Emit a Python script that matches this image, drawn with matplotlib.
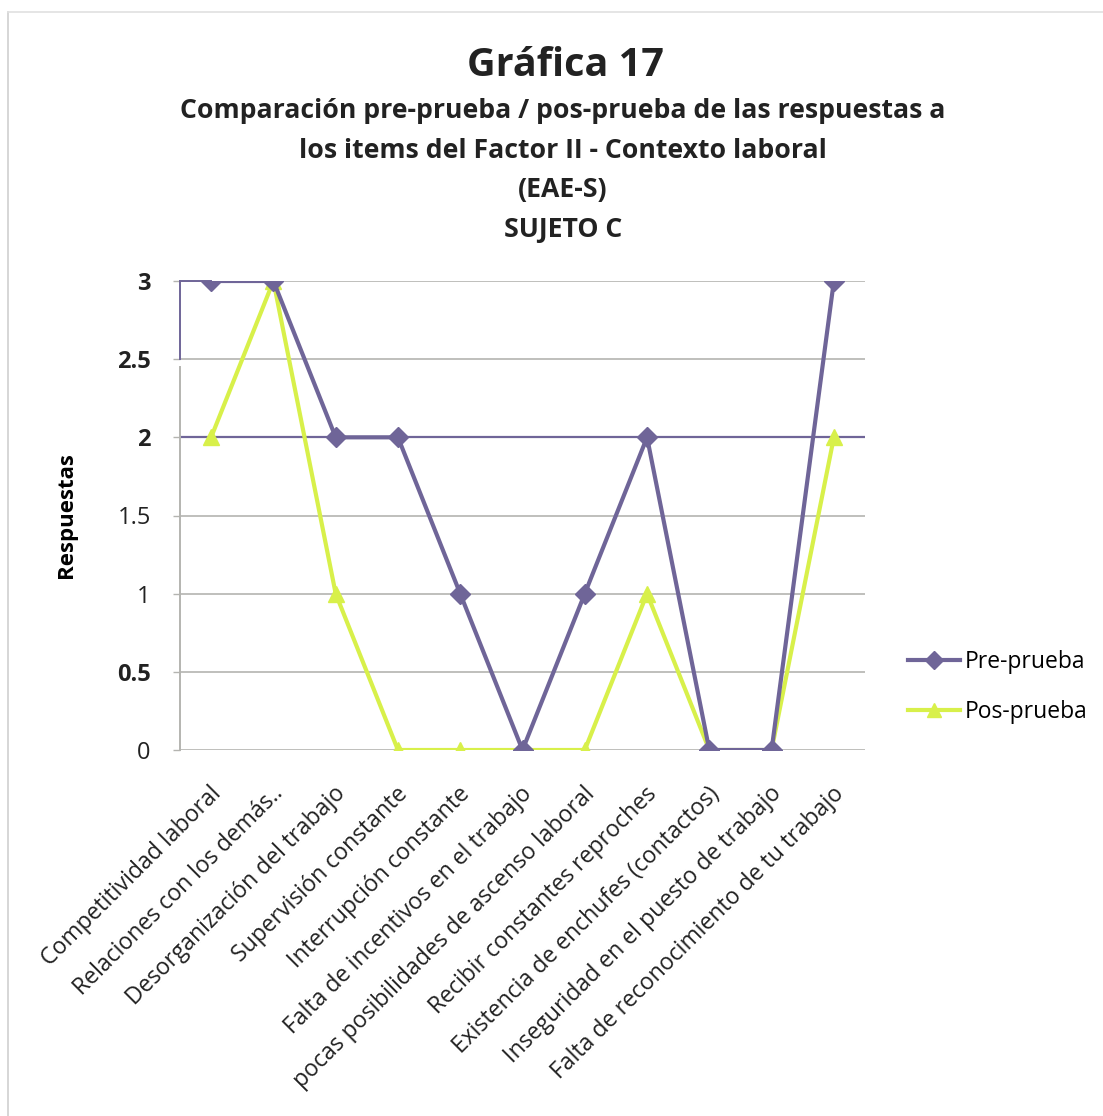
import matplotlib
matplotlib.use("Agg")
import matplotlib.pyplot as plt
import matplotlib.transforms as mtransforms
from matplotlib.lines import Line2D

# Items of Factor II and the answers before/after the intervention
items = [
    "Competitividad laboral",
    "Relaciones con los demás..",
    "Desorganización del trabajo",
    "Supervisión constante",
    "Interrupción constante",
    "Falta de incentivos en el trabajo",
    "pocas posibilidades de ascenso laboral",
    "Recibir constantes reproches",
    "Existencia de enchufes (contactos)",
    "Inseguridad en el puesto de trabajo",
    "Falta de reconocimiento de tu trabajo",
]
pre_prueba = [3, 3, 2, 2, 1, 0, 1, 2, 0, 0, 3]
pos_prueba = [2, 3, 1, 0, 0, 0, 0, 1, 0, 0, 2]
y_ticks = [0, 0.5, 1, 1.5, 2, 2.5, 3]
y_tick_labels = ["0", "0.5", "1", "1.5", "2", "2.5", "3"]
bold_ticks = {"0.5", "2", "2.5", "3"}

FONT = ["Open Sans", "DejaVu Sans"]
plt.rcParams["font.family"] = FONT

PURPLE = "#6f6598"
YELLOW = "#d8f04a"
GRID = "#b4b4b0"

W, H = 1103, 1116
fig = plt.figure(figsize=(W / 100, H / 100), dpi=100)
fig.patch.set_facecolor("white")

ax = fig.add_axes([180 / W, 1 - 750 / H, 685 / W, 469 / H])
ax.set_xlim(-0.5, len(items) - 0.5)
ax.set_ylim(0, 3)

# horizontal gridlines
for v in y_ticks:
    col = PURPLE if v == 2 else GRID
    lw = 1.6 if v == 2 else 1.2
    ax.axhline(v, color=col, lw=lw, zorder=1)

x = list(range(len(items)))
ax.plot(x, pre_prueba, color=PURPLE, lw=3, marker="D", ms=10,
        markeredgecolor=PURPLE, zorder=3, label="Pre-prueba")
ax.plot(x, pos_prueba, color=YELLOW, lw=3, marker="^", ms=11,
        markeredgecolor=YELLOW, zorder=2, label="Pos-prueba")

for s in ["top", "right", "bottom", "left"]:
    ax.spines[s].set_visible(False)
# value axis line: purple upper part, grey below
ax.plot([-0.5, -0.5], [2.5, 3], color=PURPLE, lw=1.4, clip_on=False, zorder=4)
ax.plot([-0.5, -0.5], [0, 2.45], color=GRID, lw=1.4, clip_on=False, zorder=4)
ax.plot([-0.5, 0], [3, 3], color=PURPLE, lw=1.4, clip_on=False, zorder=2)

ax.set_yticks(y_ticks)
ax.set_yticklabels(y_tick_labels)
ax.tick_params(axis="y", length=5, width=1, color=GRID, pad=16, labelsize=17)
for lab in ax.get_yticklabels():
    lab.set_fontweight("bold" if lab.get_text() in bold_ticks else "normal")
    lab.set_color("#222222")

ax.set_xticks(x)
ax.set_xticklabels(items, rotation=45, ha="right", va="top",
                   rotation_mode="anchor", fontsize=16.6, color="#222222")
ax.tick_params(axis="x", length=0, pad=23)
shift = mtransforms.ScaledTranslation(-2 / 100, 0, fig.dpi_scale_trans)
for lab in ax.get_xticklabels():
    lab.set_transform(lab.get_transform() + shift)

ax.set_ylabel("Respuestas", fontsize=16, fontweight="bold", labelpad=29)

# titles
fig.text(565 / W, 1 - 66 / H, "Gráfica 17", ha="center", va="center",
         fontsize=28.5, fontweight="bold", color="#222222")
subtitle = ["Comparación pre-prueba / pos-prueba de las respuestas a",
            "los items del Factor II - Contexto laboral",
            "(EAE-S)",
            "SUJETO C"]
for i, line in enumerate(subtitle):
    fig.text(563 / W, 1 - (111 + i * 39.7) / H, line, ha="center",
             va="center", fontsize=19.2, fontweight="bold", color="#222222")

# legend
handles = [Line2D([], [], color=PURPLE, lw=3, marker="D", ms=9),
           Line2D([], [], color=YELLOW, lw=3, marker="^", ms=10)]
fig.legend(handles, ["Pre-prueba", "Pos-prueba"], loc="center left",
           bbox_to_anchor=(887 / W, 1 - 687 / H), frameon=False,
           fontsize=16.5, handlelength=2.3, handletextpad=0.2,
           labelspacing=1.1)

# page frame lines
fig.add_artist(Line2D([8 / W, 8 / W], [0, 1 - 12 / H], color="#cfcfcf", lw=1.2))
fig.add_artist(Line2D([8 / W, 1], [1 - 12 / H, 1 - 12 / H], color="#e0e0e0", lw=1.2))

fig.savefig("out.png", dpi=100, facecolor="white")
